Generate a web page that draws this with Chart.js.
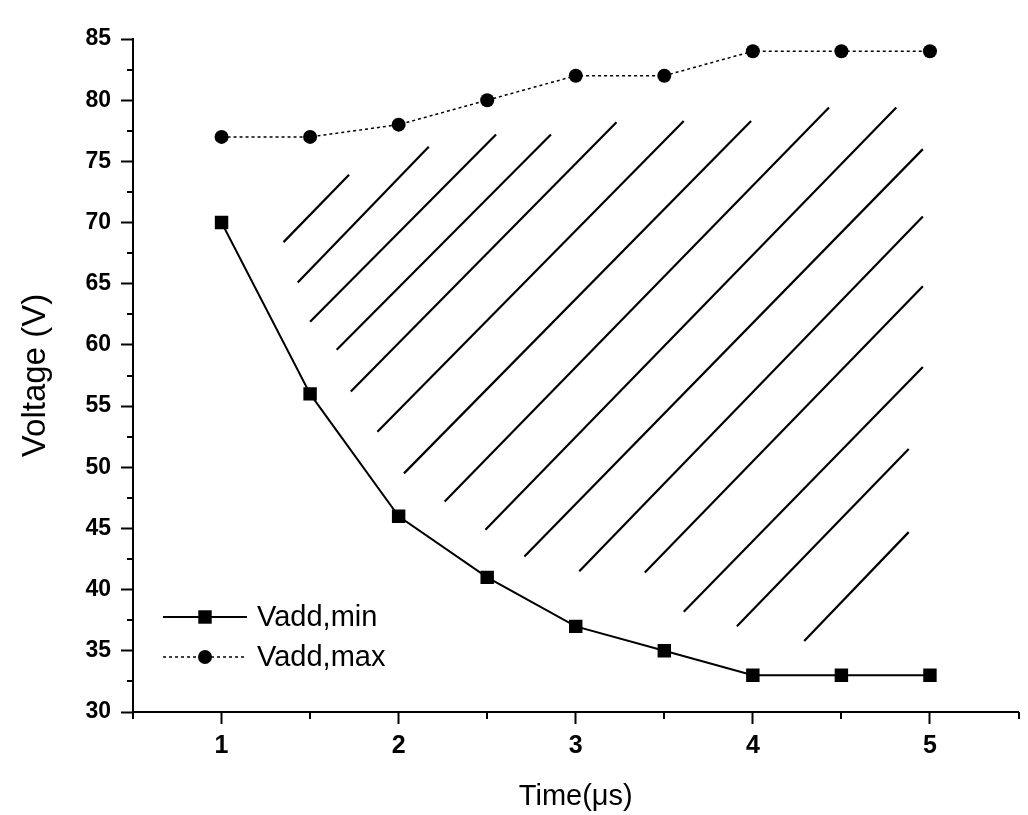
<!DOCTYPE html>
<html>
<head>
<meta charset="utf-8">
<script src="https://cdn.jsdelivr.net/npm/chart.js@4.4.1/dist/chart.umd.min.js"></script>
<style>
  html, body { margin: 0; padding: 0; background: #fff; }
  #wrap { width: 1028px; height: 815px; }
</style>
</head>
<body>
<div id="wrap"><canvas id="chart" width="1028" height="815"></canvas></div>
<script>
// Dados
const times = [1, 1.5, 2, 2.5, 3, 3.5, 4, 4.5, 5];
const vaddMin = [70, 56, 46, 41, 37, 35, 33, 33, 33];
const vaddMax = [77, 77, 78, 80, 82, 82, 84, 84, 84];

const xTicks = [1, 2, 3, 4, 5];
const xMinorTicks = [0.5, 1.5, 2.5, 3.5, 4.5, 5.5];
const yTicks = [30, 35, 40, 45, 50, 55, 60, 65, 70, 75, 80, 85];
const yMinorTicks = [32.5, 37.5, 42.5, 47.5, 52.5, 57.5, 62.5, 67.5, 72.5, 77.5, 82.5];

// hachuras: ponto inicial (x0, y0) e final (x1, y1) de cada traço
const hatchX0 = [1.35, 1.43, 1.50, 1.65, 1.73, 1.88, 2.03, 2.26, 2.49, 2.71, 3.02, 3.39, 3.61, 3.91, 4.29];
const hatchY0 = [68.4, 65.1, 61.9, 59.6, 56.2, 52.9, 49.5, 47.2, 44.9, 42.7, 41.5, 41.4, 38.2, 37.0, 35.8];
const hatchX1 = [1.72, 2.17, 2.55, 2.86, 3.23, 3.61, 3.99, 4.43, 4.81, 4.96, 4.96, 4.96, 4.96, 4.88, 4.88];
const hatchY1 = [73.9, 76.2, 77.2, 77.2, 78.2, 78.3, 78.3, 79.4, 79.4, 76.0, 70.5, 64.8, 58.2, 51.5, 44.7];

const FONT = "'Liberation Sans', Arial, sans-serif";

const hatchSets = hatchX0.map((x0, i) => ({
    data: [{ x: x0, y: hatchY0[i] }, { x: hatchX1[i], y: hatchY1[i] }],
    borderColor: '#000',
    borderWidth: 2.2,
    pointRadius: 0,
    hatch: true
}));

const seriesSets = [
    {
        label: 'Vadd,min',
        data: times.map((t, i) => ({ x: t, y: vaddMin[i] })),
        borderColor: '#000',
        backgroundColor: '#000',
        borderWidth: 2,
        pointStyle: 'rect',
        pointRadius: 9.5,
        pointBorderWidth: 0
    },
    {
        label: 'Vadd,max',
        data: times.map((t, i) => ({ x: t, y: vaddMax[i] })),
        borderColor: '#000',
        backgroundColor: '#000',
        borderWidth: 1.5,
        borderDash: [3, 3],
        pointStyle: 'circle',
        pointRadius: 7,
        pointBorderWidth: 0
    }
];

// ticks secundários (o Chart.js não tem minor ticks em escala linear)
const minorTicks = {
    id: 'minorTicks',
    afterDraw(chart) {
        const { ctx, chartArea, scales } = chart;
        ctx.save();
        ctx.strokeStyle = '#000';
        ctx.lineWidth = 2;
        ctx.beginPath();
        yMinorTicks.forEach(v => {
            const py = Math.round(scales.y.getPixelForValue(v));
            ctx.moveTo(chartArea.left - 6, py);
            ctx.lineTo(chartArea.left, py);
        });
        xMinorTicks.forEach(v => {
            const px = Math.round(scales.x.getPixelForValue(v));
            ctx.moveTo(px, chartArea.bottom);
            ctx.lineTo(px, chartArea.bottom + 7);
        });
        ctx.stroke();
        ctx.restore();
    }
};

// legenda dentro da área do gráfico, canto inferior esquerdo
const insideLegend = {
    id: 'insideLegend',
    afterDraw(chart) {
        const { ctx, chartArea } = chart;
        const x0 = chartArea.left + 30;
        const x1 = chartArea.left + 114;
        ctx.save();
        seriesSets.forEach((ds, i) => {
            const y = chartArea.bottom - 95 + i * 40;
            ctx.strokeStyle = '#000';
            ctx.lineWidth = ds.borderWidth;
            ctx.setLineDash(ds.borderDash || []);
            ctx.beginPath();
            ctx.moveTo(x0, y);
            ctx.lineTo(x1, y);
            ctx.stroke();
            ctx.setLineDash([]);
            ctx.fillStyle = '#000';
            Chart.helpers.drawPoint(ctx, {
                pointStyle: ds.pointStyle,
                radius: ds.pointRadius,
                borderWidth: 0,
                rotation: 0
            }, (x0 + x1) / 2, y);
            ctx.font = '29px ' + FONT;
            ctx.textBaseline = 'middle';
            ctx.textAlign = 'left';
            ctx.fillText(ds.label, x1 + 10, y + 1);
        });
        ctx.restore();
    }
};

const ctx = document.getElementById('chart').getContext('2d');
new Chart(ctx, {
    type: 'line',
    data: { datasets: seriesSets.concat(hatchSets) },
    options: {
        responsive: false,
        animation: false,
        layout: { padding: { top: 39, right: 0, bottom: 0, left: 0 } },
        elements: { line: { tension: 0 } },
        plugins: {
            legend: { display: false },
            tooltip: { enabled: false }
        },
        scales: {
            x: {
                type: 'linear',
                min: 0.5,
                max: 5.5,
                afterBuildTicks: s => { s.ticks = xTicks.map(v => ({ value: v })); },
                afterFit: s => { s.height = 103; },
                grid: { drawOnChartArea: false, tickLength: 12, tickWidth: 2, tickColor: '#000' },
                border: { color: '#000', width: 2 },
                ticks: { color: '#000', padding: 7, font: { family: FONT, size: 25, weight: 'bold' } },
                title: {
                    display: true,
                    text: 'Time(μs)',
                    color: '#000',
                    font: { family: FONT, size: 29 },
                    padding: { top: 0, bottom: 1 }
                }
            },
            y: {
                type: 'linear',
                min: 30,
                max: 85,
                afterBuildTicks: s => { s.ticks = yTicks.map(v => ({ value: v })); },
                afterFit: s => { s.width = 133; },
                grid: { drawOnChartArea: false, tickLength: 12, tickWidth: 2, tickColor: '#000' },
                border: { color: '#000', width: 2 },
                ticks: { color: '#000', padding: 10, font: { family: FONT, size: 23, weight: 'bold' } },
                title: {
                    display: true,
                    text: 'Voltage (V)',
                    color: '#000',
                    font: { family: FONT, size: 33 },
                    padding: { top: 16, bottom: 0 }
                }
            }
        }
    },
    plugins: [minorTicks, insideLegend]
});
</script>
</body>
</html>
